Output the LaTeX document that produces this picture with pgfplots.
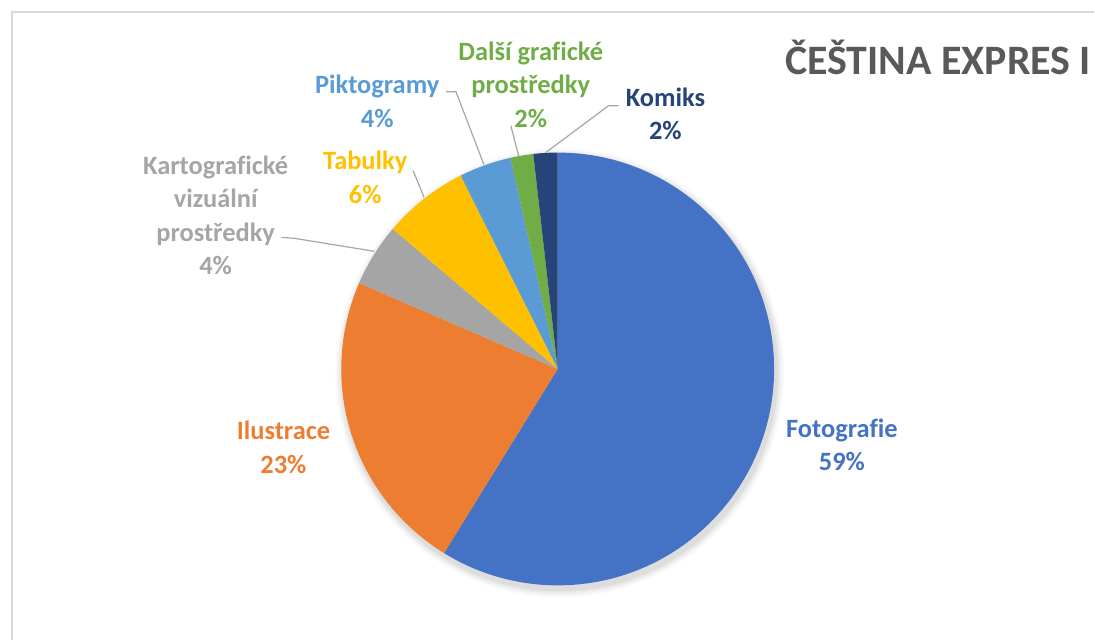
\documentclass[border=0pt]{standalone}
\usepackage{pgfplots}
\pgfplotsset{compat=1.18}
\usepackage{pgfplotstable}
\usepackage{fontspec}
\setmainfont{Carlito}[Ligatures=NoCommon]
\definecolor{cFoto}{HTML}{4472C4}
\definecolor{cIlus}{HTML}{ED7D31}
\definecolor{cKart}{HTML}{A5A5A5}
\definecolor{cTab}{HTML}{FFC000}
\definecolor{cPikt}{HTML}{5B9BD5}
\definecolor{cDalsi}{HTML}{70AD47}
\definecolor{cKom}{HTML}{264478}
\definecolor{cTitle}{HTML}{595959}
\definecolor{cBorder}{HTML}{D9D9D9}
\definecolor{cLead}{HTML}{A6A6A6}
\pgfplotstableread[col sep=comma]{
value,color
58.8,cFoto
22.7,cIlus
4.7,cKart
6.4,cTab
3.9,cPikt
1.7,cDalsi
1.8,cKom
}\piedata
\begin{document}
\def\cum{0}
\pgfplotsforeachungrouped \i in {0,...,6}{%
  \pgfplotstablegetelem{\i}{value}\of\piedata
  \let\v\pgfplotsretval
  \pgfmathsetmacro\a{90-3.6*\cum}%
  \pgfmathsetmacro\cum{\cum+\v}%
  \pgfmathsetmacro\b{90-3.6*\cum}%
  \expandafter\xdef\csname sa\i\endcsname{\a}%
  \expandafter\xdef\csname ea\i\endcsname{\b}%
  \pgfplotstablegetelem{\i}{color}\of\piedata
  \expandafter\xdef\csname col\i\endcsname{\pgfplotsretval}%
}%
\begin{tikzpicture}
\begin{axis}[x=1pt,y=1pt,xmin=0,xmax=1095,ymin=0,ymax=642,
  hide axis, clip=false, scale only axis]
\path (axis cs:0,0) rectangle (axis cs:1095,642);
\draw[cBorder, line width=1.6pt] (axis cs:10,0) -- (axis cs:10,630) -- (axis cs:1095,630);
% soft shadow
\fill[black, opacity=0.02] (axis cs:559,268) circle[radius=225pt];
\fill[black, opacity=0.03] (axis cs:559,268) circle[radius=223pt];
\fill[black, opacity=0.04] (axis cs:559,268) circle[radius=221pt];
\fill[black, opacity=0.05] (axis cs:559,268) circle[radius=219pt];
\pgfplotsinvokeforeach{0,...,6}{%
  \edef\tmp{\noexpand\fill[\csname col#1\endcsname] (axis cs:557,272) -- ++(\csname sa#1\endcsname:217pt) arc[start angle=\csname sa#1\endcsname, end angle=\csname ea#1\endcsname, radius=217pt] -- cycle;}%
  \tmp
}
% leader lines
\draw[cLead, line width=1.2pt] (axis cs:280,404) -- (axis cs:293,403) -- (axis cs:373,390);
\draw[cLead, line width=1.2pt] (axis cs:412,471) -- (axis cs:423,444);
\draw[cLead, line width=1.2pt] (axis cs:445,550) -- (axis cs:455,550) -- (axis cs:483,477);
\draw[cLead, line width=1.2pt] (axis cs:510,516) -- (axis cs:518,485);
\draw[cLead, line width=1.2pt] (axis cs:618,536) -- (axis cs:608,536) -- (axis cs:545,489);
% labels
\tikzset{lab/.style={align=center, font=\bfseries\fontsize{26.5}{33.5}\selectfont, inner sep=0pt}}
\node[lab, text=cFoto] at (axis cs:842,196) {Fotografie\\59\%};
\node[lab, text=cIlus] at (axis cs:282,193.5) {Ilustrace\\23\%};
\node[lab, text=cKart] at (axis cs:214,426) {Kartografické\\vizuální\\prostředky\\4\%};
\node[lab, text=cTab] at (axis cs:364,464) {Tabulky\\6\%};
\node[lab, text=cPikt] at (axis cs:376,540.5) {Piktogramy\\4\%};
\node[lab, text=cDalsi] at (axis cs:530,557) {Další grafické\\prostředky\\2\%};
\node[lab, text=cKom] at (axis cs:665,528) {Komiks\\2\%};
\node[anchor=base west, inner sep=0pt, text=cTitle, font=\bfseries\fontsize{42}{48}\selectfont] at (axis cs:785,567) {ČEŠTINA EXPRES I};
\end{axis}
\end{tikzpicture}
\end{document}
